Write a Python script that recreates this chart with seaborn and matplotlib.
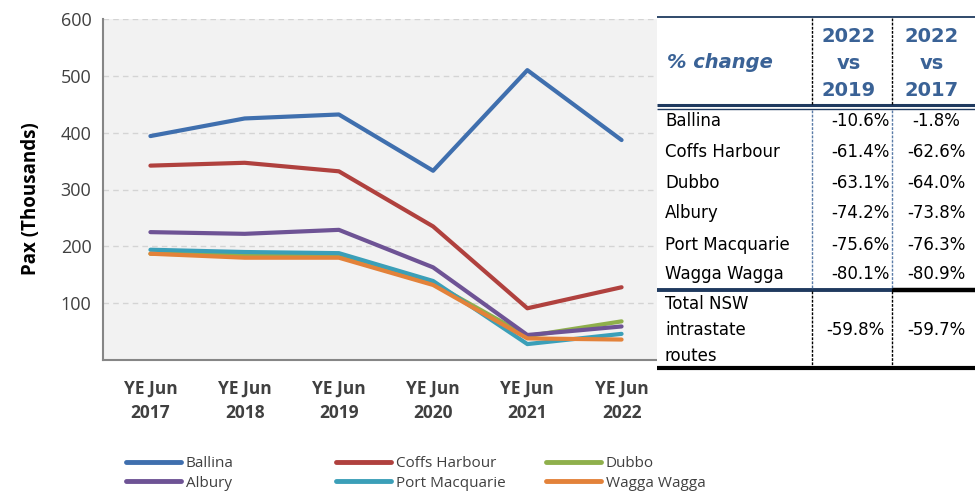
import numpy as np
import pandas as pd
import matplotlib
matplotlib.use("Agg")
import matplotlib.pyplot as plt
from matplotlib.lines import Line2D
import seaborn as sns

# ---- data ----
years = ["YE Jun\n2017", "YE Jun\n2018", "YE Jun\n2019", "YE Jun\n2020", "YE Jun\n2021", "YE Jun\n2022"]
airports = ["Ballina", "Coffs Harbour", "Dubbo", "Albury", "Port Macquarie", "Wagga Wagga"]
ballina = [394, 425, 432, 333, 510, 387]
coffs_harbour = [342, 347, 332, 235, 91, 128]
dubbo = [187, 185, 183, 135, 42, 68]
albury = [225, 222, 229, 163, 44, 59]
port_macquarie = [194, 190, 188, 139, 28, 46]
wagga_wagga = [187, 180, 180, 132, 38, 36]
colours = ["#3F6FAE", "#B0413E", "#8FB04C", "#6E5395", "#3B9FB8", "#E3823A"]

table_rows = ["Ballina", "Coffs Harbour", "Dubbo", "Albury", "Port Macquarie", "Wagga Wagga"]
chg_vs_2019 = ["-10.6%", "-61.4%", "-63.1%", "-74.2%", "-75.6%", "-80.1%"]
chg_vs_2017 = ["-1.8%", "-62.6%", "-64.0%", "-73.8%", "-76.3%", "-80.9%"]
total_label = "Total NSW\nintrastate\nroutes"
total_vs_2019 = "-59.8%"
total_vs_2017 = "-59.7%"

series = [ballina, coffs_harbour, dubbo, albury, port_macquarie, wagga_wagga]
df = pd.DataFrame({
    "x": np.tile(np.arange(len(years)), len(airports)),
    "pax": np.concatenate(series),
    "airport": np.repeat(airports, len(years)),
})

# ---- figure ----
W, H = 975, 491
sns.set_style("white")
fig = plt.figure(figsize=(W / 100, H / 100), dpi=100)


def fx(px):
    return px / W


def fy(py):
    return 1 - py / H


ax = fig.add_axes([fx(103.3), fy(360), fx(657) - fx(103.3), fy(19) - fy(360)])
ax.set_facecolor("#F2F2F2")

sns.lineplot(data=df, x="x", y="pax", hue="airport", hue_order=airports,
             palette=colours, linewidth=3, sort=False, legend=False, ax=ax)
for ln in ax.get_lines():
    ln.set_solid_capstyle("round")
    ln.set_solid_joinstyle("round")

ax.set_xlim(-0.5, 5.376)
ax.set_ylim(0, 600)
ax.set_yticks(range(0, 601, 100))
ax.set_yticklabels([""] + [str(v) for v in range(100, 601, 100)],
                   fontfamily="Open Sans", fontsize=13, color="#404040")
ax.set_xticks(range(len(years)))
ax.set_xticklabels(years, fontfamily="Open Sans", fontsize=12.5,
                   fontweight="bold", color="#404040", linespacing=1.45)
ax.set_xticks(np.arange(-0.5, 5.4, 1), minor=True)
ax.tick_params(axis="x", which="major", length=0, pad=14)
ax.tick_params(axis="x", which="minor", length=4.5, width=1.2, color="#868686")
ax.tick_params(axis="y", length=4.5, width=1.2, color="#868686", pad=4)
ax.grid(axis="y", color="#D4D4D4", linestyle=(0, (4, 3)), linewidth=1)
ax.set_axisbelow(True)
for side in ["top", "right"]:
    ax.spines[side].set_visible(False)
for side in ["left", "bottom"]:
    ax.spines[side].set_color("#868686")
    ax.spines[side].set_linewidth(1.5)
ax.set_xlabel("")
ax.set_ylabel("Pax (Thousands)", fontfamily="Open Sans", fontsize=13.5,
              fontweight="bold", color="black")
ax.yaxis.set_label_coords(-0.112, 0.472)

# ---- legend: three columns of two ----
leg_cols = [(126, [0, 3]), (336, [1, 4]), (546, [2, 5])]
for x0, idx in leg_cols:
    handles = [Line2D([], [], color=colours[i], lw=3.5, solid_capstyle="round") for i in idx]
    labels = [airports[i] for i in idx]
    fig.legend(handles, labels, loc="center left", bbox_to_anchor=(fx(x0), fy(473.3)),
               frameon=False, borderpad=0, borderaxespad=0, handlelength=3.6,
               handletextpad=0.3, labelspacing=0.3,
               prop={"family": "Open Sans", "size": 11})
for t in fig.legends:
    for txt in t.get_texts():
        txt.set_color("#404040")

# ---- table on the right ----
navy = "#1F3A5F"
head_blue = "#3A6296"
tfont = "DejaVu Sans"
x_left, x_right = 656.7, 975
x_d1, x_d2 = 811.7, 891.7
c1, c2 = 857, 936


def hline(y, x0, x1, color, lw):
    fig.add_artist(Line2D([fx(x0), fx(x1)], [fy(y), fy(y)], color=color, lw=lw,
                          solid_capstyle="butt", transform=fig.transFigure))


def vline(x, y0, y1, color, lw, ls):
    fig.add_artist(Line2D([fx(x), fx(x)], [fy(y0), fy(y1)], color=color, lw=lw,
                          linestyle=ls, transform=fig.transFigure))


# white backing so the plot area stops at the table edge
fig.add_artist(plt.Rectangle((fx(x_left), fy(372)), fx(x_right) - fx(x_left), fy(14) - fy(372),
                             facecolor="white", edgecolor="none", transform=fig.transFigure))

hline(17.3, x_left, x_right, navy, 1.3)
hline(104.5, x_left, x_right, navy, 2.2)
hline(108.8, x_left, x_right, navy, 1.0)
hline(289.5, x_left, x_d2, navy, 2.8)
hline(289.5, x_d2, x_right, "black", 3.2)
hline(368.3, x_left, x_right, "black", 3.0)
for xd in [x_d1, x_d2]:
    vline(xd, 18, 103.5, "black", 1.0, (0, (2, 1)))
    vline(xd, 110, 288, "#5B7CA8", 1.0, (0, (2, 1)))
    vline(xd, 291, 367, "black", 1.0, (0, (2, 1)))

fig.text(fx(667), fy(63), "% change", fontfamily=tfont, fontsize=14, fontweight="bold",
         fontstyle="italic", color=head_blue, va="center", ha="left")
for xc, yr in [(c1 - 8, "2019"), (c2 - 4, "2017")]:
    for yy, s in [(36.7, "2022"), (63.3, "vs"), (90, yr)]:
        fig.text(fx(xc), fy(yy), s, fontfamily=tfont, fontsize=14, fontweight="bold",
                 color=head_blue, va="center", ha="center")

row_y = [120.7, 152.3, 182.7, 213.3, 245, 274]
for yy, name, v1, v2 in zip(row_y, table_rows, chg_vs_2019, chg_vs_2017):
    fig.text(fx(665), fy(yy), name, fontfamily=tfont, fontsize=12, color="black",
             va="center", ha="left")
    fig.text(fx(890), fy(yy), v1, fontfamily=tfont, fontsize=12, color="black",
             va="center", ha="right")
    fig.text(fx(c2), fy(yy), v2, fontfamily=tfont, fontsize=12, color="black",
             va="center", ha="center")

fig.text(fx(665), fy(330), total_label, fontfamily=tfont, fontsize=12, color="black",
         va="center", ha="left", linespacing=1.55)
fig.text(fx(c1 - 2), fy(330), total_vs_2019, fontfamily=tfont, fontsize=12, color="black",
         va="center", ha="center")
fig.text(fx(c2), fy(330), total_vs_2017, fontfamily=tfont, fontsize=12, color="black",
         va="center", ha="center")

fig.savefig("out.png", dpi=100)
